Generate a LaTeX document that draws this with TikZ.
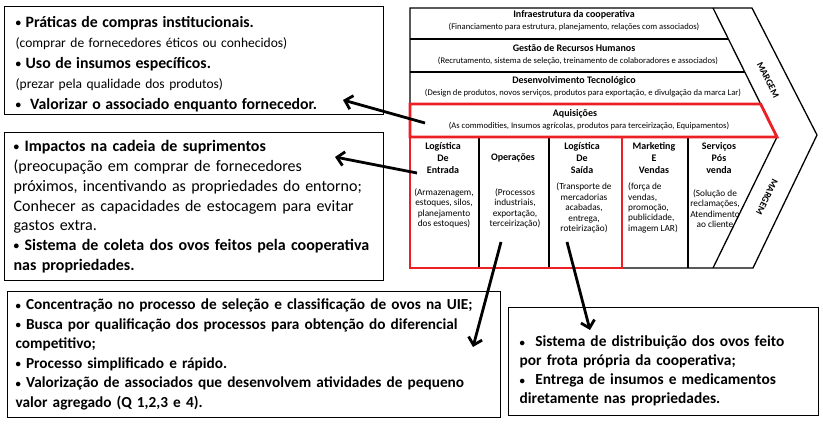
\documentclass[tikz,border=0pt]{standalone}
\usepackage{fontspec}
\usepackage{graphicx}
\setmainfont{Carlito}
\usetikzlibrary{arrows.meta, positioning, calc}
\definecolor{chainred}{RGB}{236,32,36}
\newcommand{\bul}{\raisebox{0.12ex}{\scalebox{0.7}{•}}}

\begin{document}
\begin{tikzpicture}[x=1pt, y=-1pt,
  infobox/.style={draw, line width=1.3pt, anchor=north west, align=left, inner xsep=11pt, inner ysep=0pt},
  rowhead/.style={inner sep=0pt, font=\fontsize{10}{12}\selectfont\bfseries},
  rowsub/.style={inner sep=0pt, font=\fontsize{8.6}{10}\selectfont},
  colhead/.style={inner sep=0pt, align=center, font=\fontsize{10}{12.3}\selectfont\bfseries},
  colsub/.style={inner sep=0pt, align=center, font=\fontsize{9.3}{10.4}\selectfont},
  link/.style={line width=2.8pt, -{Straight Barb[length=7pt, width=14pt]}},
  margem/.style={inner sep=0pt, font=\fontsize{9.5}{10}\selectfont\bfseries}]
\useasboundingbox (0,0) rectangle (823,427);

% cadeia de valor
\draw[line width=1.3pt] (410,8) -- (752,8) -- (817,135) -- (753,268) -- (410,268) -- cycle;
\draw[line width=1.3pt] (713,8) -- (777,137) -- (713,268);
\draw[line width=1.3pt] (410,39) -- (728.4,39);
\draw[line width=1.3pt] (410,72) -- (744.7,72);
\foreach \x in {479,549,688}
  \draw[line width=1.3pt] (\x,137) -- (\x,268);
\draw[chainred, line width=2.8pt] (410,104) -- (760.6,104) -- (777,137) -- (410,137) -- cycle;
\draw[chainred, line width=2.8pt] (410,137) rectangle (622,268);

\node[rowhead] (infra) at (574,15) {Infraestrutura da cooperativa};
\node[rowsub] (infrasub) at (574,27) {(Financiamento para estrutura, planejamento, relações com associados)};
\node[rowhead] (rh) at (574,48) {Gestão de Recursos Humanos};
\node[rowsub] (rhsub) at (578,61) {(Recrutamento, sistema de seleção, treinamento de colaboradores e associados)};
\node[rowhead] (tec) at (574,81) {Desenvolvimento Tecnológico};
\node[rowsub] (tecsub) at (583,93) {(Design de produtos, novos serviços, produtos para exportação, e divulgação da marca Lar)};
\node[rowhead] (aquis) at (575,114) {Aquisições};
\node[rowsub] (aquissub) at (589,126) {(As commodities, Insumos agrícolas, produtos para terceirização,  Equipamentos)};

\node[colhead] (logent) at (443,158) {Logística\\De\\Entrada};
\node[colsub] (logentsub) at (444,208.5) {(Armazenagem,\\estoques, silos,\\planejamento\\dos estoques)};
\node[colhead] (oper) at (513,158) {Operações};
\node[colsub] (opersub) at (515,208.5) {(Processos\\industriais,\\exportação,\\terceirização)};
\node[colhead] (logsai) at (582,158) {Logística\\De\\Saída};
\node[colsub] (logsaisub) at (584,208) {(Transporte de\\mercadorias\\acabadas,\\entrega,\\roteirização)};
\node[colhead] (mkt) at (654,158) {Marketing\\E\\Vendas};
\node[colsub, align=left, anchor=west] (mktsub) at (628,208) {(força de\\vendas,\\promoção,\\publicidade,\\imagem LAR)};
\node[colhead] (serv) at (719,158) {Serviços\\Pós\\venda};
\node[colsub] (servsub) at (715,208.5) {(Solução de\\reclamações,\\Atendimento\\ao cliente};

\node[margem, rotate=-63] (margemtop) at (768,80) {MARGEM};
\node[margem, rotate=-116] (margembot) at (767,197) {MARGEM};

% quadros de impacto
\node[infobox, text width=357pt, text height=18pt, minimum height=108pt, font=\fontsize{13.5}{20.5}\selectfont] (compras) at (4,6)
  {{\fontsize{15.8}{20.5}\selectfont\bfseries \bul\ Práticas de compras institucionais.}\\
   (comprar de fornecedores éticos ou  conhecidos)\\
   {\fontsize{15.8}{20.5}\selectfont\bfseries \bul\ Uso de insumos específicos.}\\
   (prezar pela qualidade dos  produtos)\\
   {\fontsize{15.8}{20.5}\selectfont\bfseries \bul\ \ Valorizar o associado enquanto fornecedor.}};
\node[infobox, text width=361pt, inner xsep=9pt, minimum height=148pt, font=\fontsize{16}{19.7}\selectfont] (suprim) at (4,132)
  {\textbf{\bul\ Impactos na cadeia de suprimentos}\\
   (preocupação em comprar de fornecedores\\
   próximos, incentivando as propriedades do entorno;\\
   Conhecer as capacidades de  estocagem para evitar\\
   gastos extra.\\
   \textbf{\bul\ Sistema de coleta dos ovos feitos pela cooperativa}\\
   \textbf{nas propriedades.}};
\node[infobox, text width=477pt, inner xsep=8pt, minimum height=126pt, font=\fontsize{15.3}{19.5}\selectfont\bfseries] (operbox) at (7,291)
  {\bul\ Concentração no processo de seleção e classificação de ovos na UIE;\\
   \bul\ Busca por qualificação dos processos para obtenção do diferencial\\
   competitivo;\\
   \bul\ Processo simplificado  e rápido.\\
   \bul\ Valorização de associados que desenvolvem atividades de pequeno\\
   valor agregado (Q 1,2,3 e 4).};
\node[infobox, text width=288pt, text height=30pt, minimum height=108pt, font=\fontsize{15.4}{19}\selectfont\bfseries] (distrib) at (508,307)
  {\bul\ \ Sistema de distribuição dos ovos feito\\
   por frota própria da cooperativa;\\
   \bul\ \ Entrega de insumos  e medicamentos\\
   diretamente nas propriedades.};

% ligacoes
\coordinate (aquisTail) at (425,123);
\coordinate (comprasTip) at (343,100);
\coordinate (logentTail) at (417,173);
\coordinate (suprimTip) at (335,157);
\coordinate (operTail) at (501,242);
\coordinate (operboxTip) at (473,347);
\coordinate (logsaiTail) at (567,242);
\coordinate (distribTip) at (590,330);
\draw[link] (aquisTail) -- (comprasTip);
\draw[link] (logentTail) -- (suprimTip);
\draw[link] (operTail) -- (operboxTip);
\draw[link] (logsaiTail) -- (distribTip);
\end{tikzpicture}
\end{document}
